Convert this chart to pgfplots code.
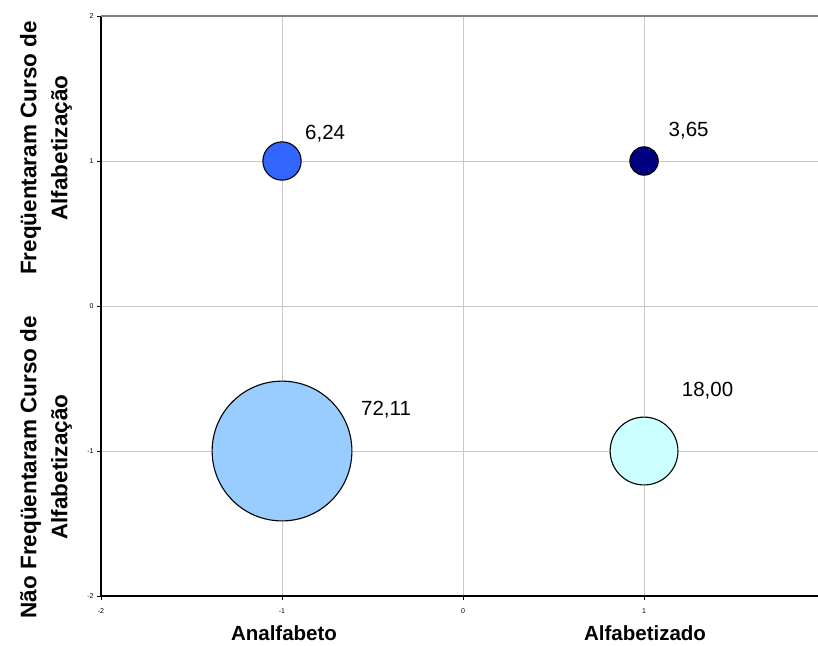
\documentclass[border=0pt]{standalone}
\usepackage{fontspec}
\setmainfont{Liberation Sans}
\usepackage{pgfplots}
\pgfplotsset{compat=1.18}
\definecolor{bubA}{HTML}{99CCFF}
\definecolor{bubB}{HTML}{3366FF}
\definecolor{bubC}{HTML}{CCFFFF}
\definecolor{bubD}{HTML}{000080}
\definecolor{gridgray}{HTML}{C8C8C8}
\definecolor{topgray}{HTML}{808080}
\begin{document}
\begin{tikzpicture}
\begin{axis}[
  x=181bp, y=145bp,
  xmin=-2, xmax=1.961, ymin=-2, ymax=2,
  axis x line=bottom, axis y line=left,
  axis line style={-, black, line width=1.5bp},
  xtick={-2,-1,0,1}, ytick={-2,-1,0,1,2},
  grid=major, grid style={gridgray, line width=0.9bp},
  tick align=outside, major tick length=4bp,
  tick style={black, line width=0.8bp},
  ticklabel style={font=\fontsize{7bp}{8bp}\selectfont},
  /pgf/number format/assume math mode=true,
  xticklabel style={yshift=-5bp},
  clip=false,
]
\coordinate (ll) at (rel axis cs:0,0);
\coordinate (ur) at (rel axis cs:1,1);
\draw[topgray, line width=1.5bp] (rel axis cs:0,1) -- (rel axis cs:1,1);
\addplot[scatter, only marks,
  scatter src=explicit symbolic,
  scatter/classes={
    a={mark=*, fill=bubA, draw=black, line width=1.1bp},
    b={mark=*, fill=bubB, draw=black, line width=1.1bp},
    c={mark=*, fill=bubC, draw=black, line width=1.1bp},
    d={mark=*, fill=bubD, draw=black, line width=1.1bp}},
  visualization depends on={8.465*sqrt(\thisrow{v})-2 \as \rad},
  scatter/@pre marker code/.append style={/tikz/mark size=\rad bp},
] table[meta=cls] {
x y v cls
-1 -1 72.11 a
1 -1 18.00 c
-1 1 6.24 b
1 1 3.65 d
};
\node[anchor=west, inner sep=0pt, font=\fontsize{20.5bp}{24bp}\selectfont] at (axis cs:-0.873,1.19) {6,24};
\node[anchor=west, inner sep=0pt, font=\fontsize{20.5bp}{24bp}\selectfont] at (axis cs:1.135,1.207) {3,65};
\node[anchor=west, inner sep=0pt, font=\fontsize{20.5bp}{24bp}\selectfont] at (axis cs:-0.564,-0.717) {72,11};
\node[anchor=west, inner sep=0pt, font=\fontsize{20.5bp}{24bp}\selectfont] at (axis cs:1.208,-0.586) {18,00};
\node[anchor=base, inner sep=0pt, font=\fontsize{20.5bp}{24bp}\selectfont\bfseries] at ([xshift=2bp,yshift=-44bp]axis cs:-1,-2) {Analfabeto};
\node[anchor=base, inner sep=0pt, font=\fontsize{20.5bp}{24bp}\selectfont\bfseries] at ([xshift=1bp,yshift=-44bp]axis cs:1,-2) {Alfabetizado};
\node[rotate=90, align=center, inner sep=0pt, font=\fontsize{22.5bp}{31bp}\selectfont\bfseries] at ([xshift=-55bp,yshift=13bp]axis cs:-2,1) {Freqüentaram Curso de\\Alfabetização};
\node[rotate=90, align=center, inner sep=0pt, font=\fontsize{22.5bp}{31bp}\selectfont\bfseries] at ([xshift=-55bp,yshift=-16bp]axis cs:-2,-1) {Não Freqüentaram Curso de\\Alfabetização};
\end{axis}
\pgfresetboundingbox
\useasboundingbox ([xshift=-101bp,yshift=-49bp]ll) rectangle ([yshift=16bp]ur);
\end{tikzpicture}
\end{document}
